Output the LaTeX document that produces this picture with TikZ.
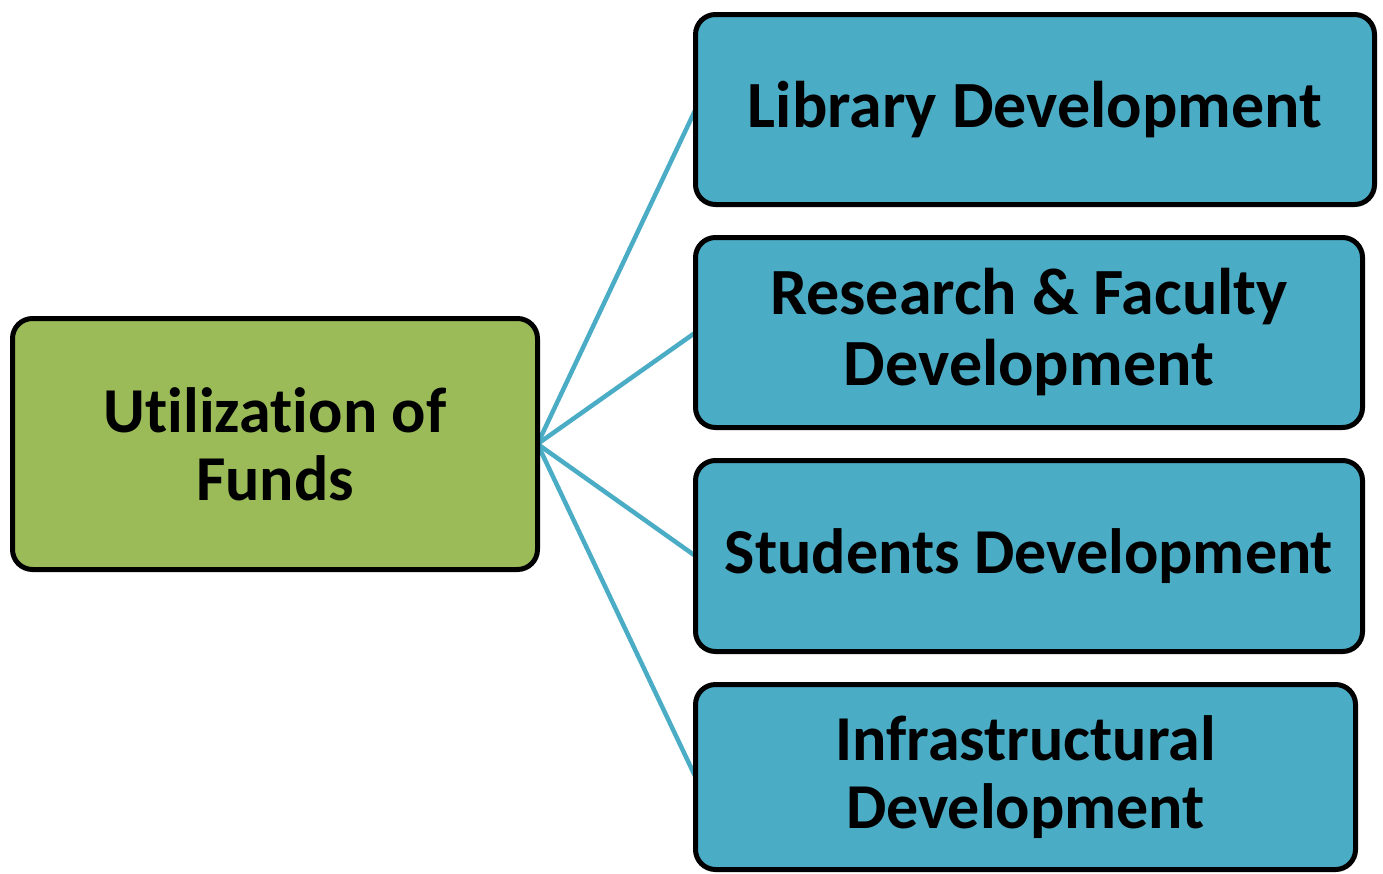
\documentclass[tikz,border=0pt]{standalone}
\usepackage{fontspec}
\setmainfont{Carlito}[Ligatures={NoCommon}]
\usetikzlibrary{backgrounds}
\definecolor{boxgreen}{HTML}{9BBB59}
\definecolor{boxblue}{HTML}{4BACC6}
\tikzset{
  basebox/.style={draw=black, line width=5pt, rounded corners=20pt, inner sep=0pt, outer sep=0pt,
    align=center, font=\fontsize{66}{71}\selectfont\bfseries, text=black},
  smalltext/.style={font=\fontsize{64}{68}\selectfont\bfseries},
  greenbox/.style={basebox, fill=boxgreen},
  bluebox/.style={basebox, fill=boxblue},
  link/.style={draw=boxblue, line width=4.5pt}
}
\begin{document}
\begin{tikzpicture}[x=1pt,y=1pt]
\useasboundingbox (0,0) rectangle (1383,-873);
\node[greenbox, smalltext, minimum width=525pt, minimum height=251pt] (L) at (275,-444) {Utilization of\\Funds};
\node[bluebox, minimum width=679pt, minimum height=190pt] (B1) at (1035,-109.5) {Library Development};
\node[bluebox, minimum width=667pt, minimum height=190pt] (B2) at (1029,-332.5) {Research \& Faculty\\Development};
\node[bluebox, smalltext, minimum width=667pt, minimum height=191pt] (B3) at (1029,-556) {Students Development};
\node[bluebox, smalltext, minimum width=660pt, minimum height=185pt] (B4) at (1025.5,-777) {Infrastructural\\Development};
\begin{scope}[on background layer]
\draw[link] (L.east) -- (B1.west);
\draw[link] (L.east) -- (B2.west);
\draw[link] (L.east) -- (B3.west);
\draw[link] (L.east) -- (B4.west);
\end{scope}
\end{tikzpicture}
\end{document}
